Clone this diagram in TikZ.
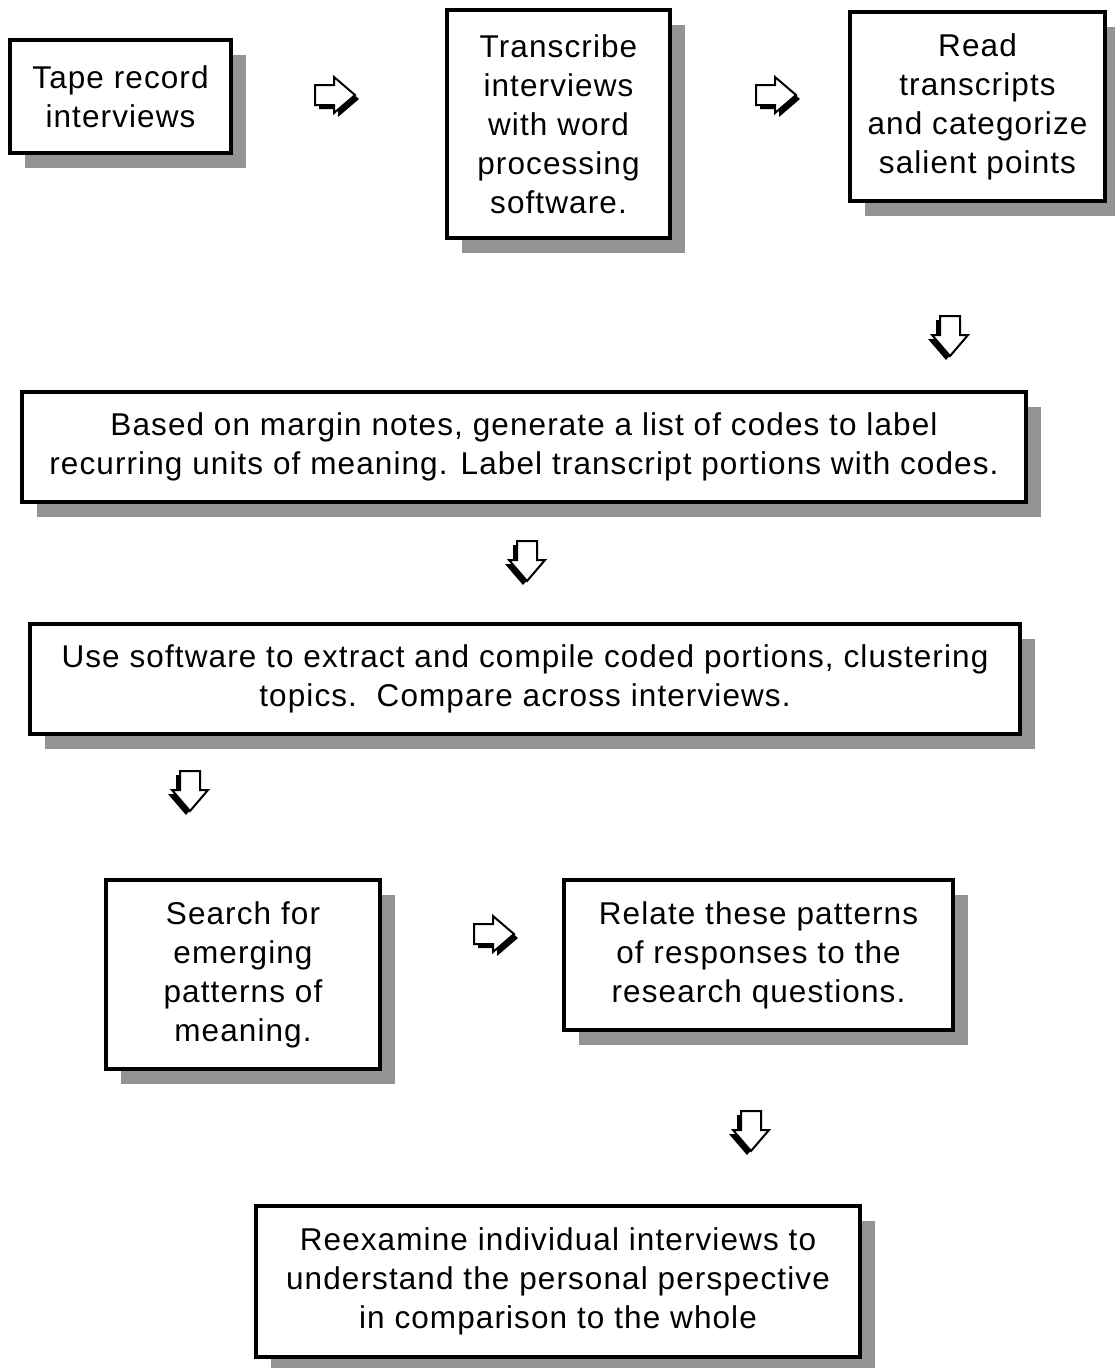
\documentclass[tikz,border=0pt]{standalone}
\usepackage{fontspec}
\setmainfont{Liberation Sans}[LetterSpace=3.5]
\usetikzlibrary{shadows}
\tikzset{
  stepbox/.style={draw=black, line width=3.8pt, fill=white, inner sep=0pt,
    align=center, font=\fontsize{31.5}{39}\selectfont,
    drop shadow={shadow xshift=15pt, shadow yshift=-15pt, fill=black!42, opacity=1}},
  arrowshape/.style={draw=black, line width=2pt, fill=white, line join=miter},
  arrowshadow/.style={fill=black},
  rarrow/.pic={
    \fill[arrowshadow] (-16,-6) -- (3,-6) -- (3,-14) -- (24,4) -- (3,22) -- (3,14) -- (-16,14) -- cycle;
    \draw[arrowshape] (-20,-10) -- (-1,-10) -- (-1,-18) -- (20,0) -- (-1,18) -- (-1,10) -- (-20,10) -- cycle;
  },
  darrow/.pic={
    \fill[arrowshadow] (-14,-16) -- (-14,3) -- (-22,3) -- (-4,24) -- (14,3) -- (6,3) -- (6,-16) -- cycle;
    \draw[arrowshape] (-10,-20) -- (-10,-1) -- (-18,-1) -- (0,20) -- (18,-1) -- (10,-1) -- (10,-20) -- cycle;
  }
}
\begin{document}
\begin{tikzpicture}[x=1pt, y=-1pt]
\useasboundingbox (0,0) rectangle (1115,1368);
\node[stepbox, minimum width=221.5pt, minimum height=113.5pt] (b1) at (120.5,96.5)
  {Tape record\\interviews};
\node[stepbox, minimum width=223.5pt, minimum height=228.5pt] (b2) at (558.5,124)
  {Transcribe\\interviews\\with word\\processing\\software.};
\node[stepbox, minimum width=255.5pt, minimum height=189.5pt] (b3) at (977.5,106.5)
  {Read\\transcripts\\and categorize\\salient points};
\node[stepbox, minimum width=1004.5pt, minimum height=110.5pt] (b4) at (524,447)
  {Based on margin notes, generate a list of codes to label\\recurring units of meaning. Label transcript portions with codes.};
\node[stepbox, minimum width=990.5pt, minimum height=110.5pt] (b5) at (525,679)
  {Use software to extract and compile coded portions, clustering\\topics.\ \ Compare across interviews.};
\node[stepbox, minimum width=274.5pt, minimum height=189.5pt] (b6) at (243,974.5)
  {Search for\\emerging\\patterns of\\meaning.};
\node[stepbox, minimum width=389.5pt, minimum height=150.5pt] (b7) at (758.5,955)
  {Relate these patterns\\of responses to the\\research questions.};
\node[stepbox, minimum width=604.5pt, minimum height=151.5pt] (b8) at (558,1281.5)
  {Reexamine individual interviews to\\understand the personal perspective\\in comparison to the whole};
\coordinate (a1) at (335,95);
\coordinate (a2) at (776,95);
\coordinate (a3) at (950,336);
\coordinate (a4) at (527,561);
\coordinate (a5) at (190,791);
\coordinate (a6) at (494,934);
\coordinate (a7) at (751,1131);
\pic at (a1) {rarrow};
\pic at (a2) {rarrow};
\pic at (a6) {rarrow};
\pic at (a3) {darrow};
\pic at (a4) {darrow};
\pic at (a5) {darrow};
\pic at (a7) {darrow};
\end{tikzpicture}
\end{document}
